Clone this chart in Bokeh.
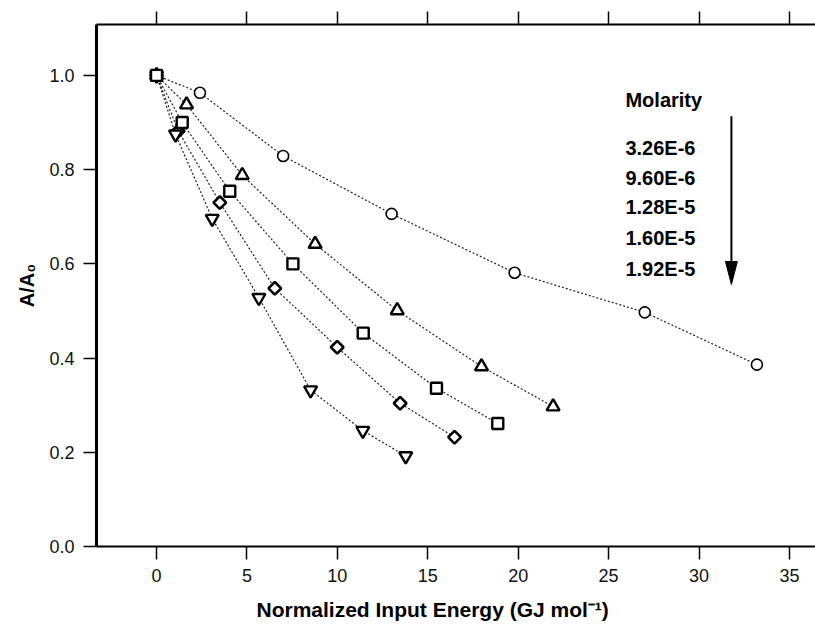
import numpy as np
from bokeh.plotting import figure
from bokeh.models import Range1d, LinearAxis, FixedTicker, PrintfTickFormatter
from bokeh.core.properties import value
from bokeh.embed import file_html
from bokeh.resources import INLINE

# ---------------- data ----------------
x_ticks = [0, 5, 10, 15, 20, 25, 30, 35]
y_ticks = [0.0, 0.2, 0.4, 0.6, 0.8, 1.0]

molarity_labels = ["3.26E-6", "9.60E-6", "1.28E-5", "1.60E-5", "1.92E-5"]

x_326e6 = [0.0, 2.40, 7.00, 13.00, 19.80, 27.00, 33.20]
y_326e6 = [1.000, 0.963, 0.829, 0.706, 0.581, 0.497, 0.386]

x_960e6 = [0.0, 1.66, 4.74, 8.77, 13.31, 17.97, 21.93]
y_960e6 = [1.000, 0.938, 0.788, 0.642, 0.501, 0.382, 0.297]

x_128e5 = [0.0, 1.42, 4.05, 7.54, 11.43, 15.48, 18.87]
y_128e5 = [1.000, 0.900, 0.754, 0.600, 0.453, 0.336, 0.261]

x_160e5 = [0.0, 1.20, 3.50, 6.54, 9.99, 13.47, 16.48]
y_160e5 = [1.000, 0.882, 0.730, 0.548, 0.423, 0.304, 0.232]

x_192e5 = [0.0, 1.05, 3.08, 5.66, 8.52, 11.41, 13.78]
y_192e5 = [1.000, 0.875, 0.696, 0.528, 0.332, 0.246, 0.192]

series = [
    (x_326e6, y_326e6, "circle", 11, 0, 1.6),
    (x_960e6, y_960e6, "triangle", 13, 0, 2.4),
    (x_160e5, y_160e5, "square", 9, np.pi / 4, 2.6),
    (x_192e5, y_192e5, "inverted_triangle", 13, 0, 2.4),
    (x_128e5, y_128e5, "square", 11, 0, 2.4),
]

FONT = "Liberation Sans"

p = figure(width=815, height=628,
           x_range=Range1d(-3.32, 36.44), y_range=Range1d(0, 1.108),
           output_backend="svg", toolbar_location=None,
           min_border_left=96, min_border_right=0, min_border_top=24, min_border_bottom=82)
p.outline_line_color = None
p.xgrid.grid_line_color = None
p.ygrid.grid_line_color = None
p.background_fill_color = "white"
p.border_fill_color = "white"

top = LinearAxis()
p.add_layout(top, "above")

for ax, lw in ((p.below[0], 2), (top, 2), (p.left[0], 3)):
    ax.axis_line_width = lw
    ax.axis_line_color = "black"
    ax.major_tick_line_width = 1.5
    ax.major_tick_line_color = "black"
    ax.major_tick_in = 0
    ax.major_tick_out = 13
    ax.minor_tick_line_color = None
    ax.major_label_text_font = FONT
    ax.major_label_text_font_size = "18px"
    ax.major_label_text_color = "#111111"
    ax.major_label_standoff = 9

p.below[0].ticker = FixedTicker(ticks=x_ticks)
top.ticker = FixedTicker(ticks=x_ticks)
top.major_label_text_font_size = "1px"
top.major_label_text_color = None
top.major_label_standoff = 0
p.left[0].ticker = FixedTicker(ticks=y_ticks)
p.left[0].formatter = PrintfTickFormatter(format="%.1f")

p.left[0].axis_label = "A/A\u2080"
p.left[0].axis_label_text_font = FONT
p.left[0].axis_label_text_font_style = "bold"
p.left[0].axis_label_text_font_size = "20px"
p.left[0].axis_label_text_color = "black"
p.left[0].axis_label_standoff = 8

# x-axis title (trailing no-break spaces shift its centre left, as in the reference)
p.below[0].axis_label = "Normalized Input Energy (GJ mol\u207b\u00b9)" + "\u00a0" * 8
p.below[0].axis_label_text_font = FONT
p.below[0].axis_label_text_font_style = "bold"
p.below[0].axis_label_text_font_size = "21px"
p.below[0].axis_label_text_color = "black"
p.below[0].axis_label_standoff = 13

# connecting dotted lines
for xs, ys, m, s, a, lw in series:
    p.line(xs, ys, line_color="#222222", line_width=1.2, line_dash="2 2")

# markers
for xs, ys, m, s, a, lw in series:
    p.scatter(xs, ys, marker=m, size=s, angle=a, fill_color="white",
              line_color="black", line_width=lw)

# molarity legend text
legend_x = 25.93
p.text(x=[legend_x], y=[0.948], text=["Molarity"], text_align="left",
       text_baseline="middle", text_font=value(FONT), text_font_style="bold",
       text_font_size="20px", text_color="black")
row_y = [0.846, 0.783, 0.720, 0.655, 0.588]
p.text(x=[legend_x] * len(molarity_labels), y=row_y, text=molarity_labels,
       text_align="left", text_baseline="middle", text_font=value(FONT),
       text_font_style="bold", text_font_size="20px", text_color="black")

# arrow
ax_x, ay0, ay1 = 31.79, 0.913, 0.556
head_len, head_hw = 0.049, 0.33
p.segment(x0=[ax_x], y0=[ay0], x1=[ax_x], y1=[ay1 + head_len * 0.5],
          line_color="black", line_width=2)
p.patch([ax_x - head_hw, ax_x + head_hw, ax_x], [ay1 + head_len, ay1 + head_len, ay1],
        fill_color="black", line_color="black", line_width=1)

open("out.html", "w").write(file_html(p, INLINE))
